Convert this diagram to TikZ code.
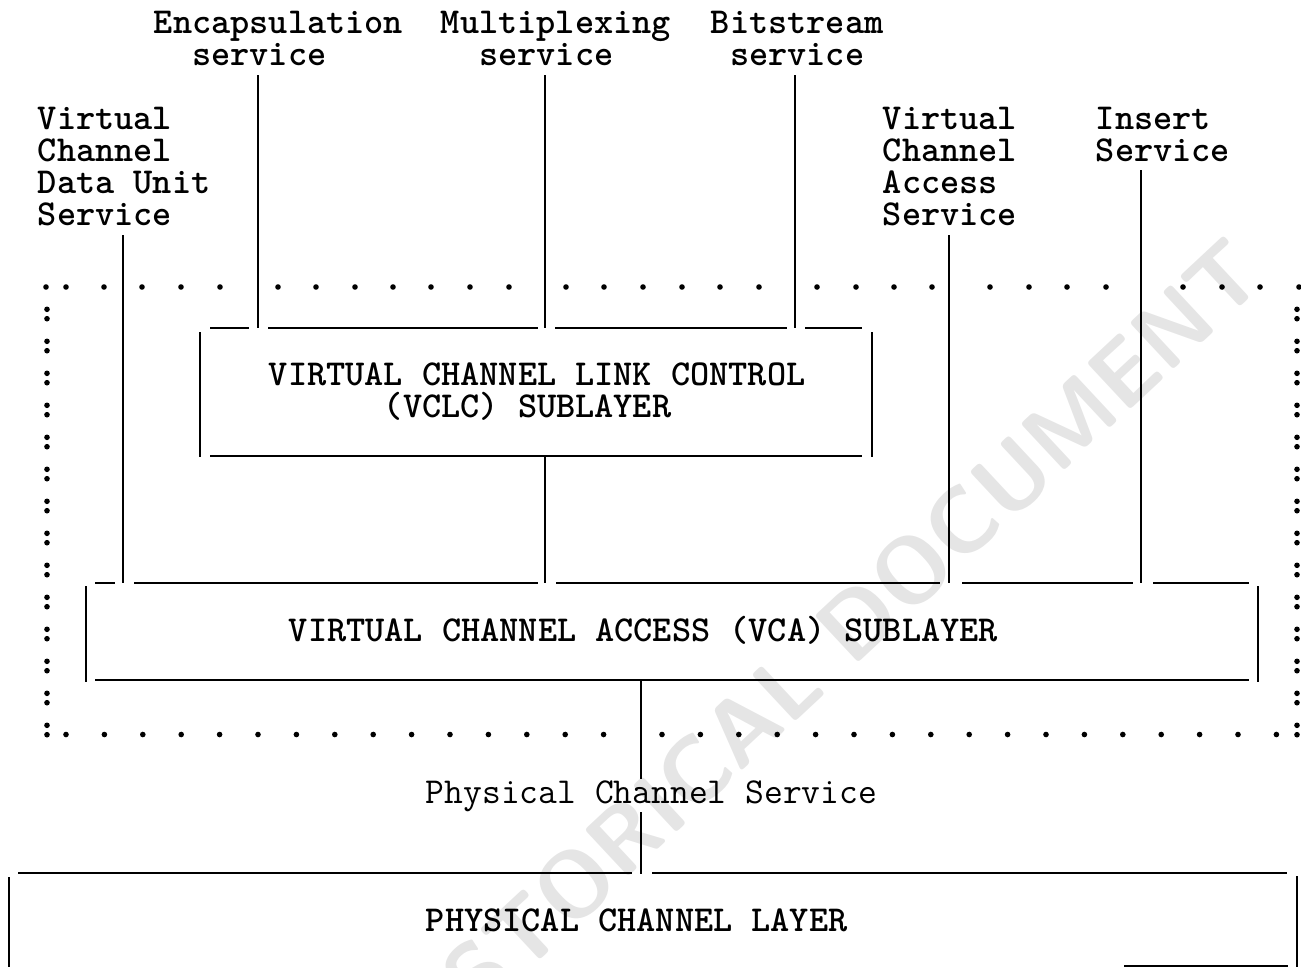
\documentclass[tikz,border=0pt]{standalone}
\usepackage{tikz}
\begin{document}
\begin{tikzpicture}[x=1pt,y=-1pt,line width=1.8pt,
  lbl/.style={font=\ttfamily\bfseries\fontsize{36.5}{32}\selectfont,inner sep=0pt,anchor=base west,align=left},
  plain lbl/.style={lbl,font=\ttfamily\fontsize{36.5}{32}\selectfont}]
\useasboundingbox (0,0) rectangle (1301,967);

\node[rotate=43,text=black!10,font=\sffamily\bfseries\fontsize{92}{92}\selectfont] (wmark) at (815,660) {HISTORICAL DOCUMENT};

% service labels (base = last line)
\node[lbl] (encap) at (153,65) {Encapsulation\\\phantom{En}service};
\node[lbl] (mux) at (440,65) {Multiplexing\\\phantom{Mu}service};
\node[lbl] (bits) at (710,65) {Bitstream\\\phantom{B}service};
\node[lbl] (vcdu) at (37,225) {Virtual\\Channel\\Data Unit\\Service};
\node[lbl] (vcas) at (882,225) {Virtual\\Channel\\Access\\Service};
\node[lbl] (ins) at (1095,161) {Insert\\Service};

% layers
\node[lbl] (vclc) at (268,417) {VIRTUAL CHANNEL LINK CONTROL\\\phantom{VIRTUA}(VCLC) SUBLAYER};
\node[lbl] (vca) at (288,641) {VIRTUAL CHANNEL ACCESS (VCA) SUBLAYER};
\node[plain lbl] (pcs) at (425,803) {Physical Channel Service};
\node[lbl] (phy) at (425,931) {PHYSICAL CHANNEL LAYER};

\coordinate (encapS) at (258,75);
\coordinate (muxS) at (545,75);
\coordinate (bitsS) at (795,75);
\coordinate (vcduS) at (123,235);
\coordinate (vcasS) at (949,235);
\coordinate (insS) at (1141,170);
\coordinate (vclcT) at (536,328);
\coordinate (vclcB) at (545,456);
\coordinate (vcaT) at (641,583);
\coordinate (vcaB) at (641,680);
\coordinate (phyT) at (641,874);

\draw (encapS) -- (encapS |- vclcT);
\draw (muxS) -- (muxS |- vclcT);
\draw (bitsS) -- (bitsS |- vclcT);
\draw (vcduS) -- (vcduS |- vcaT);
\draw (vcasS) -- (vcasS |- vcaT);
\draw (insS) -- (insS |- vcaT);
\draw (vclcB) -- (vclcB |- vcaT);
\draw (vcaB) -- (vcaB |- pcs.north);
\draw (vcaB |- pcs.south) -- (phyT);

% VCLC box
\draw (200,332) -- (200,457) (872,332) -- (872,457);
\draw (210,328) -- (249,328) (268,328) -- (538,328) (555,328) -- (787,328) (805,328) -- (862,328);
\draw (210,456) -- (862,456);

% VCA box
\draw (86,586) -- (86,682) (1258,586) -- (1258,682);
\draw (95,583) -- (115,583) (134,583) -- (538,583) (556,583) -- (940,583) (962,583) -- (1133,583) (1153,583) -- (1249,583);
\draw (95,680) -- (1249,680);

% physical layer box
\draw (9,877) -- (9,967) (1297,876) -- (1297,967);
\draw (18,873) -- (632,873) (652,873) -- (1287,873);
\draw (1124,966) -- (1288,966);

% dotted frame
\foreach \x in {46,66,104,142,181,220,278,316,355,393,431,470,509,566,604,643,682,720,759,817,856,894,932,990,1029,1067,1106,1183,1222,1260,1299}
  \fill (\x,287) circle (2.8pt);
\foreach \k in {0,...,14}
  \fill ({66+38.4*\k},734.5) circle (2.8pt);
\foreach \k in {0,...,16}
  \fill ({662+38.4*\k},734.5) circle (2.8pt);
\foreach \k in {0,...,13} {
  \pgfmathsetmacro\y{314+32*\k}
  \foreach \x in {47,1297} {
    \fill (\x,\y-4.7) circle (2.8pt);
    \fill (\x,\y+4.7) circle (2.8pt);
  }
}
\end{tikzpicture}
\end{document}
